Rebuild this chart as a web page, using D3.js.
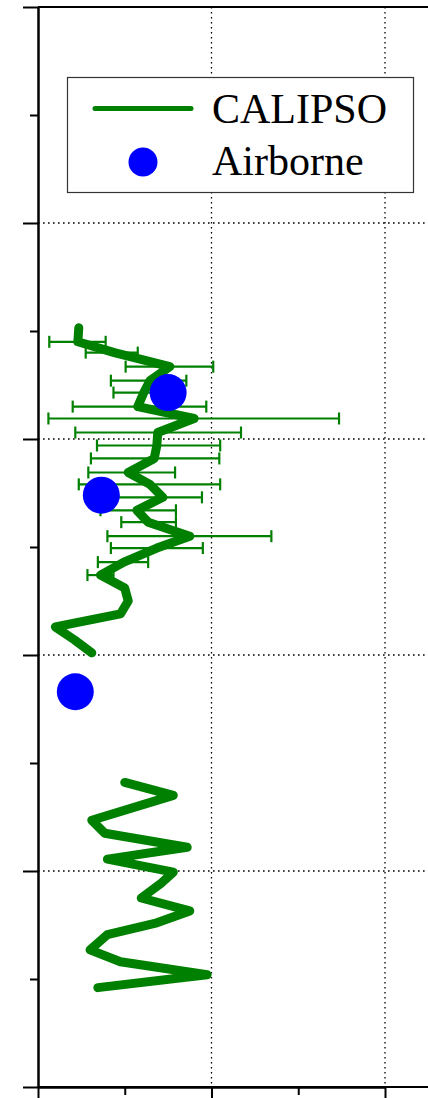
<!DOCTYPE html>
<html>
<head>
<meta charset="utf-8">
<script src="https://cdn.jsdelivr.net/npm/d3@7"></script>
<style>
  html, body { margin: 0; padding: 0; background: #fff; }
  svg { display: block; }
</style>
</head>
<body>
<svg id="chart" width="428" height="1098"></svg>
<script>
// ---- Data (x: value, y: altitude km) ----
const calipsoUpperAlt = [7.03, 6.90, 6.80, 6.67, 6.54, 6.43, 6.30, 6.19, 6.06, 5.94, 5.82, 5.69, 5.58, 5.46, 5.34, 5.23, 5.10, 4.99, 4.86, 4.74, 4.62, 4.50, 4.38, 4.26, 4.14, 4.02];
const calipsoUpperVal = [0.47, 0.46, 0.88, 1.52, 1.29, 1.22, 1.15, 1.80, 1.38, 1.37, 1.34, 1.04, 1.29, 1.44, 1.14, 1.27, 1.75, 1.37, 0.99, 0.72, 1.00, 1.04, 0.95, 0.20, 0.42, 0.62];

const calipsoLowerAlt = [2.82, 2.70, 2.47, 2.35, 2.22, 2.11, 1.99, 1.88, 1.75, 1.63, 1.52, 1.41, 1.27, 1.16, 1.04, 0.92];
const calipsoLowerVal = [1.00, 1.56, 0.62, 0.77, 1.72, 0.80, 1.56, 1.41, 1.19, 1.75, 1.37, 0.80, 0.60, 0.95, 1.95, 0.69];

const errAlt  = [6.90, 6.80, 6.67, 6.54, 6.43, 6.30, 6.19, 6.06, 5.94, 5.82, 5.69, 5.58, 5.46, 5.34, 5.23, 5.10, 4.99, 4.86, 4.74];
const errLow  = [0.13, 0.55, 1.01, 0.84, 0.87, 0.40, 0.12, 0.43, 0.68, 0.61, 0.58, 0.47, 0.77, 0.72, 0.96, 0.80, 0.84, 0.69, 0.57];
const errHigh = [0.78, 1.15, 2.02, 1.71, 1.55, 1.94, 3.47, 2.34, 2.10, 2.09, 1.58, 2.10, 1.89, 1.59, 1.59, 2.69, 1.90, 1.27, 0.87];

const airborneAlt = [6.43, 5.48, 3.66];
const airborneVal = [1.50, 0.73, 0.43];

const yMajorTicks = [0, 2, 4, 6, 8, 10];
const yMinorTicks = [1, 3, 5, 7, 9];
const xMajorTicks = [0, 2, 4];
const xMinorTicks = [1, 3];
const legendLabels = ["CALIPSO", "Airborne"];

// ---- Layout ----
const svg = d3.select("#chart");
const W = 428;
const plotLeft = 38, plotTop = 7, plotBottom = 1087;
const x = d3.scaleLinear().domain([0, 4]).range([plotLeft, 385]);
const y = d3.scaleLinear().domain([0, 10]).range([plotBottom, plotTop]);
const green = "#008000";

// grid
const grid = svg.append("g").attr("stroke", "#000").attr("stroke-width", 1.3)
  .attr("stroke-dasharray", "1.6,3.4");
grid.selectAll("line.h").data(yMajorTicks.filter(d => d > 0 && d < 10)).join("line")
  .attr("class", "h")
  .attr("x1", plotLeft).attr("x2", W).attr("y1", d => y(d)).attr("y2", d => y(d));
grid.selectAll("line.v").data(xMajorTicks.filter(d => d > 0)).join("line")
  .attr("class", "v")
  .attr("y1", plotTop).attr("y2", plotBottom).attr("x1", d => x(d)).attr("x2", d => x(d));

// top border
svg.append("line").attr("x1", plotLeft).attr("x2", W).attr("y1", plotTop).attr("y2", plotTop)
  .attr("stroke", "#000").attr("stroke-width", 2);

// axes
function styleAxis(g) {
  g.select(".domain").attr("stroke", "#000").attr("stroke-width", 2);
  g.selectAll(".tick line").attr("stroke", "#000").attr("stroke-width", 2);
  g.selectAll(".tick text").remove();
}
svg.append("g").attr("transform", `translate(${plotLeft},0)`)
  .call(d3.axisLeft(y).tickValues(yMajorTicks).tickSize(15).tickSizeOuter(0).tickFormat(""))
  .call(styleAxis);
svg.append("g").attr("transform", `translate(${plotLeft},0)`)
  .call(d3.axisLeft(y).tickValues(yMinorTicks).tickSize(8).tickSizeOuter(0).tickFormat(""))
  .call(styleAxis);
svg.append("g").attr("transform", `translate(0,${plotBottom})`)
  .call(d3.axisBottom(x).tickValues(xMajorTicks).tickSize(15).tickSizeOuter(0).tickFormat(""))
  .call(styleAxis);
svg.append("g").attr("transform", `translate(0,${plotBottom})`)
  .call(d3.axisBottom(x).tickValues(xMinorTicks).tickSize(8).tickSizeOuter(0).tickFormat(""))
  .call(styleAxis);
svg.append("line").attr("x1", plotLeft).attr("x2", W).attr("y1", plotBottom).attr("y2", plotBottom)
  .attr("stroke", "#000").attr("stroke-width", 2);

// error bars
const errData = errAlt.map((a, i) => ({ a, lo: errLow[i], hi: errHigh[i] }));
const eb = svg.append("g").attr("stroke", green).attr("stroke-width", 2.2).attr("fill", "none");
eb.selectAll("line.bar").data(errData).join("line").attr("class", "bar")
  .attr("x1", d => x(d.lo)).attr("x2", d => x(d.hi))
  .attr("y1", d => y(d.a)).attr("y2", d => y(d.a));
eb.selectAll("line.capl").data(errData).join("line").attr("class", "capl")
  .attr("x1", d => x(d.lo)).attr("x2", d => x(d.lo))
  .attr("y1", d => y(d.a) - 6).attr("y2", d => y(d.a) + 6);
eb.selectAll("line.caph").data(errData).join("line").attr("class", "caph")
  .attr("x1", d => x(d.hi)).attr("x2", d => x(d.hi))
  .attr("y1", d => y(d.a) - 6).attr("y2", d => y(d.a) + 6);

// CALIPSO lines
const line = d3.line().x(d => x(d[0])).y(d => y(d[1]));
const segs = [
  calipsoUpperVal.map((v, i) => [v, calipsoUpperAlt[i]]),
  calipsoLowerVal.map((v, i) => [v, calipsoLowerAlt[i]])
];
svg.append("g").selectAll("path").data(segs).join("path")
  .attr("d", line).attr("fill", "none").attr("stroke", green)
  .attr("stroke-width", 9).attr("stroke-linejoin", "round").attr("stroke-linecap", "round");

// Airborne points
svg.append("g").selectAll("circle").data(airborneVal.map((v, i) => [v, airborneAlt[i]])).join("circle")
  .attr("cx", d => x(d[0])).attr("cy", d => y(d[1])).attr("r", 18.5).attr("fill", "#0000ff");

// Legend
const lg = svg.append("g");
lg.append("rect").attr("x", 67.5).attr("y", 77.5).attr("width", 346).attr("height", 115)
  .attr("fill", "#fff").attr("stroke", "#333").attr("stroke-width", 1.2);
lg.append("line").attr("x1", 95).attr("x2", 191).attr("y1", 108.5).attr("y2", 108.5)
  .attr("stroke", green).attr("stroke-width", 5).attr("stroke-linecap", "round");
lg.append("circle").attr("cx", 143).attr("cy", 162).attr("r", 14.5).attr("fill", "#0000ff");
lg.selectAll("text").data(legendLabels).join("text")
  .attr("x", 212).attr("y", (d, i) => 123 + i * 52)
  .attr("font-family", "'Liberation Serif', 'Times New Roman', serif")
  .attr("font-size", 42).attr("fill", "#000").text(d => d);
</script>
</body>
</html>
